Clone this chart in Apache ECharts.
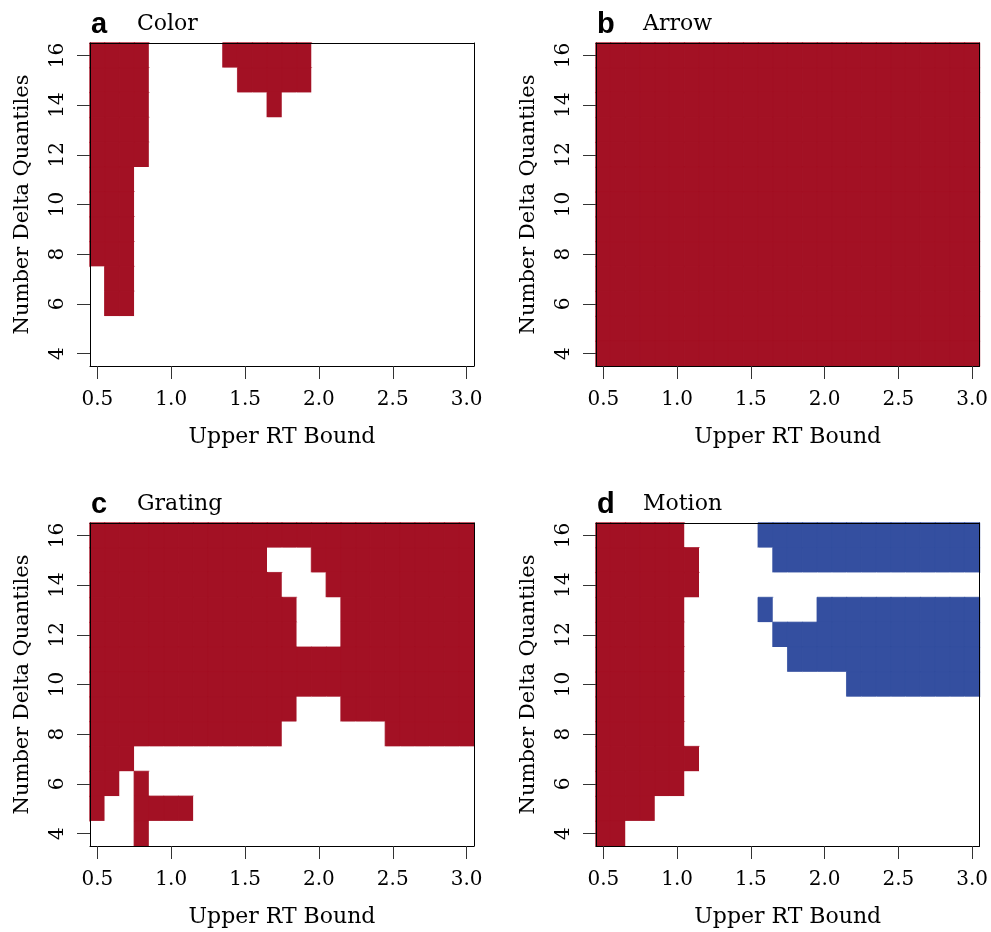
<!DOCTYPE html>
<html>
<head>
<meta charset="utf-8">
<script src="https://cdn.jsdelivr.net/npm/echarts@6/dist/echarts.min.js"></script>
<style>
html,body{margin:0;padding:0;background:#fff;}
#main{width:991px;height:932px;}
</style>
</head>
<body>
<div id="main"></div>
<script>
// ---- DATA ----
const xCategories = ['0.5','0.6','0.7','0.8','0.9','1.0','1.1','1.2','1.3','1.4','1.5','1.6','1.7','1.8','1.9','2.0','2.1','2.2','2.3','2.4','2.5','2.6','2.7','2.8','2.9','3.0'];
const yCategories = ['4','5','6','7','8','9','10','11','12','13','14','15','16'];
const panelLetters = ['a','b','c','d'];
const panelNames = ['Color','Arrow','Grating','Motion'];
const xAxisTitle = 'Upper RT Bound';
const yAxisTitle = 'Number Delta Quantiles';
// Rows listed from y = 16 (top) down to y = 4 (bottom); one character per x category.
// R = significant positive (red), B = significant negative (blue), . = not significant (white)
const colorRows = [
  'RRRR.....RRRRRR...........',
  'RRRR......RRRRR...........',
  'RRRR........R.............',
  'RRRR......................',
  'RRRR......................',
  'RRR.......................',
  'RRR.......................',
  'RRR.......................',
  'RRR.......................',
  '.RR.......................',
  '.RR.......................',
  '..........................',
  '..........................'
];
const arrowRows = [
  'RRRRRRRRRRRRRRRRRRRRRRRRRR',
  'RRRRRRRRRRRRRRRRRRRRRRRRRR',
  'RRRRRRRRRRRRRRRRRRRRRRRRRR',
  'RRRRRRRRRRRRRRRRRRRRRRRRRR',
  'RRRRRRRRRRRRRRRRRRRRRRRRRR',
  'RRRRRRRRRRRRRRRRRRRRRRRRRR',
  'RRRRRRRRRRRRRRRRRRRRRRRRRR',
  'RRRRRRRRRRRRRRRRRRRRRRRRRR',
  'RRRRRRRRRRRRRRRRRRRRRRRRRR',
  'RRRRRRRRRRRRRRRRRRRRRRRRRR',
  'RRRRRRRRRRRRRRRRRRRRRRRRRR',
  'RRRRRRRRRRRRRRRRRRRRRRRRRR',
  'RRRRRRRRRRRRRRRRRRRRRRRRRR'
];
const gratingRows = [
  'RRRRRRRRRRRRRRRRRRRRRRRRRR',
  'RRRRRRRRRRRR...RRRRRRRRRRR',
  'RRRRRRRRRRRRR...RRRRRRRRRR',
  'RRRRRRRRRRRRRR...RRRRRRRRR',
  'RRRRRRRRRRRRRR...RRRRRRRRR',
  'RRRRRRRRRRRRRRRRRRRRRRRRRR',
  'RRRRRRRRRRRRRRRRRRRRRRRRRR',
  'RRRRRRRRRRRRRR...RRRRRRRRR',
  'RRRRRRRRRRRRR.......RRRRRR',
  'RRR.......................',
  'RR.R......................',
  'R..RRRR...................',
  '...R......................'
];
const motionRows = [
  'RRRRRR.....BBBBBBBBBBBBBBB',
  'RRRRRRR.....BBBBBBBBBBBBBB',
  'RRRRRRR...................',
  'RRRRRR.....B...BBBBBBBBBBB',
  'RRRRRR......BBBBBBBBBBBBBB',
  'RRRRRR.......BBBBBBBBBBBBB',
  'RRRRRR...........BBBBBBBBB',
  'RRRRRR....................',
  'RRRRRR....................',
  'RRRRRRR...................',
  'RRRRRR....................',
  'RRRR......................',
  'RR........................'
];
const panelRows = [colorRows, arrowRows, gratingRows, motionRows];
const codeValue = { 'R': 1, 'B': -1, '.': 0 };

// ---- STYLE / LAYOUT ----
const valueColor = { '1': '#A31124', '-1': '#344FA0', '0': '#ffffff' };
const SERIF = 'DejaVu Serif';
const grids = [
  { left: 90,  top: 43,  width: 384, height: 323 },
  { left: 596, top: 43,  width: 384, height: 323 },
  { left: 90,  top: 523, width: 384, height: 323 },
  { left: 596, top: 523, width: 384, height: 323 }
];

function toCells(rows) {
  const out = [];
  const n = rows.length;
  rows.forEach((row, r) => {
    const yi = n - 1 - r;
    for (let xi = 0; xi < row.length; xi++) {
      const v = codeValue[row[xi]];
      const c = valueColor[String(v)];
      out.push({
        value: [xi, yi, v],
        itemStyle: { color: c, borderColor: c, borderWidth: v === 0 ? 0 : 0.8 }
      });
    }
  });
  return out;
}

const xAxes = [], yAxes = [], series = [], titles = [];
grids.forEach((g, i) => {
  xAxes.push({
    type: 'category', gridIndex: i, data: xCategories, position: 'bottom', z: 10,
    name: xAxisTitle, nameLocation: 'middle', nameGap: 60,
    nameTextStyle: { fontFamily: SERIF, fontSize: 22, color: '#000' },
    axisLine: { show: true, onZero: false, lineStyle: { color: '#000', width: 1 } },
    axisTick: { show: true, interval: 4, alignWithLabel: true, length: 13, lineStyle: { color: '#333', width: 1 } },
    axisLabel: { interval: 4, margin: 24, fontFamily: SERIF, fontSize: 20, color: '#000' },
    splitLine: { show: false }
  });
  xAxes.push({
    type: 'category', gridIndex: i, data: xCategories, position: 'top', z: 10,
    axisLine: { show: true, onZero: false, lineStyle: { color: '#000', width: 1 } },
    axisTick: { show: false }, axisLabel: { show: false }, splitLine: { show: false }
  });
  yAxes.push({
    type: 'category', gridIndex: i, data: yCategories, position: 'left', z: 10,
    name: yAxisTitle, nameLocation: 'middle', nameGap: 57, nameRotate: 90,
    nameTextStyle: { fontFamily: SERIF, fontSize: 21, color: '#000' },
    axisLine: { show: true, onZero: false, lineStyle: { color: '#000', width: 1 } },
    axisTick: { show: true, interval: 1, alignWithLabel: true, length: 13, lineStyle: { color: '#333', width: 1 } },
    axisLabel: { interval: 1, rotate: 90, margin: 22, fontFamily: SERIF, fontSize: 20, color: '#000' },
    splitLine: { show: false }
  });
  yAxes.push({
    type: 'category', gridIndex: i, data: yCategories, position: 'right', z: 10,
    axisLine: { show: true, onZero: false, lineStyle: { color: '#000', width: 1 } },
    axisTick: { show: false }, axisLabel: { show: false }, splitLine: { show: false }
  });
  series.push({
    type: 'heatmap', xAxisIndex: 2 * i, yAxisIndex: 2 * i, z: 2,
    data: toCells(panelRows[i]),
    emphasis: { disabled: true },
    progressive: 0
  });
  titles.push({
    left: g.left + 1, top: g.top - 33, padding: 0,
    text: '{l|' + panelLetters[i] + '}{n|' + panelNames[i] + '}',
    textStyle: {
      rich: {
        l: { fontFamily: 'Liberation Sans', fontWeight: 'bold', fontSize: 29, color: '#000', width: 46 },
        n: { fontFamily: SERIF, fontWeight: 'normal', fontSize: 22, color: '#000' }
      }
    }
  });
});

const chart = echarts.init(document.getElementById('main'), null, { renderer: 'canvas' });
chart.setOption({
  backgroundColor: '#fff',
  animation: false,
  title: titles,
  grid: grids,
  xAxis: xAxes,
  yAxis: yAxes,
  series: series
});
</script>
</body>
</html>
